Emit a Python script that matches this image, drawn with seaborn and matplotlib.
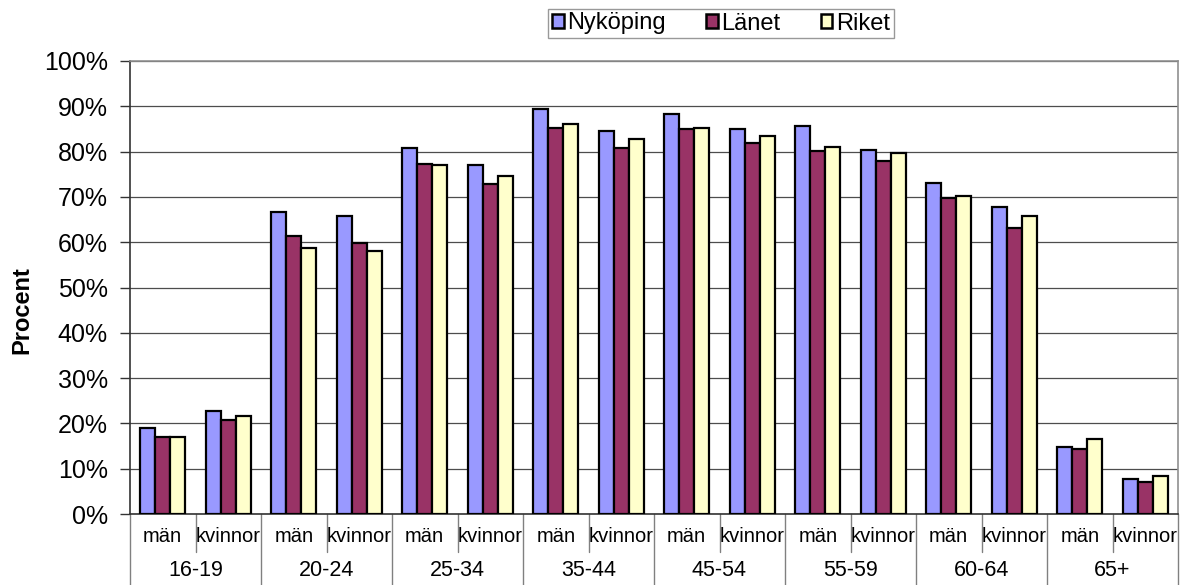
import pandas as pd
import seaborn as sns
import matplotlib.pyplot as plt
from matplotlib.ticker import PercentFormatter
from matplotlib.transforms import blended_transform_factory

# data
age_groups = ['16-19', '20-24', '25-34', '35-44', '45-54', '55-59', '60-64', '65+']
genders = ['män', 'kvinnor']
series = ['Nyköping', 'Länet', 'Riket']
nykoping = [19.0, 22.7, 66.6, 65.8, 80.9, 77.1, 89.3, 84.5,
            88.3, 84.9, 85.6, 80.3, 73.1, 67.8, 14.9, 7.7]
lanet = [16.9, 20.8, 61.3, 59.8, 77.2, 72.9, 85.3, 80.8,
         85.0, 82.0, 80.2, 78.0, 69.7, 63.2, 14.4, 7.1]
riket = [16.9, 21.6, 58.7, 58.1, 77.1, 74.7, 86.1, 82.8,
         85.1, 83.5, 81.1, 79.7, 70.3, 65.8, 16.6, 8.4]
colors = ['#9999FF', '#993366', '#FFFFCC']

cats = [f'{a} {g}' for a in age_groups for g in genders]
rows = []
for name, vals in zip(series, [nykoping, lanet, riket]):
    for c, v in zip(cats, vals):
        rows.append({'kategori': c, 'serie': name, 'procent': v})
data = pd.DataFrame(rows)

sns.set_style('white')
plt.rcParams['font.family'] = ['Liberation Sans', 'DejaVu Sans']
plt.rcParams['text.color'] = 'black'
plt.rcParams['axes.labelcolor'] = 'black'
plt.rcParams['ytick.labelcolor'] = 'black'

fig = plt.figure(figsize=(11.81, 5.85), dpi=100)
ax = fig.add_axes([130 / 1181, 1 - 514 / 585, 1048 / 1181, 453 / 585])

sns.barplot(data=data, x='kategori', y='procent', hue='serie', order=cats,
            hue_order=series, palette=colors, width=0.69, saturation=1,
            edgecolor='black', linewidth=1.6, ax=ax, legend=False, zorder=3)

ax.set_xlim(-0.5, len(cats) - 0.5)
ax.set_ylim(0, 100)
ax.set_yticks(range(0, 101, 10))
ax.yaxis.set_major_formatter(PercentFormatter(100, decimals=0))
ax.tick_params(axis='y', labelsize=18, length=7, width=1, color='#333333',
               labelcolor='black', direction='out', left=True, pad=9)
ax.yaxis.grid(True, color='#4d4d4d', linewidth=0.9, zorder=0)
ax.set_axisbelow(True)
ax.set_xticks([])
ax.set_xlabel('')
ax.set_ylabel('Procent', fontsize=17, fontweight='bold', color='black')
ax.yaxis.set_label_coords(-97 / 1048, 0.45)

for side in ['top', 'right']:
    ax.spines[side].set_color('#909090')
    ax.spines[side].set_linewidth(1.2)
for side in ['left', 'bottom']:
    ax.spines[side].set_color('#333333')
    ax.spines[side].set_linewidth(1.2)

# two-level category axis
trans = blended_transform_factory(ax.transData, ax.transAxes)
short_y = -38 / 453
long_y = -71 / 453
for i in range(len(cats) + 1):
    x = i - 0.5
    bottom = long_y if i % 2 == 0 else short_y
    ax.plot([x, x], [0, bottom], transform=trans, color='#808080',
            linewidth=1, clip_on=False)
for i, c in enumerate(cats):
    ax.text(i, -23 / 453, genders[i % 2], transform=trans, ha='center',
            va='center', fontsize=14.5, color='black')
for k, a in enumerate(age_groups):
    ax.text(2 * k + 0.5, -56 / 453, a, transform=trans, ha='center',
            va='center', fontsize=15.5, color='black')

handles = [plt.Rectangle((0, 0), 1, 1, facecolor=col, edgecolor='black',
                         linewidth=1.8) for col in colors]
leg = fig.legend(handles, series, loc='center',
                 bbox_to_anchor=(721 / 1181, 1 - 23.5 / 585), ncol=3,
                 frameon=True, fancybox=False, edgecolor='#808080',
                 fontsize=17, handlelength=0.5, handleheight=0.5,
                 handletextpad=0.15, columnspacing=1.7, borderpad=0.15,
                 borderaxespad=0)
leg.get_frame().set_linewidth(1)
for t in leg.get_texts():
    t.set_color('black')

fig.savefig('out.png', dpi=100)
